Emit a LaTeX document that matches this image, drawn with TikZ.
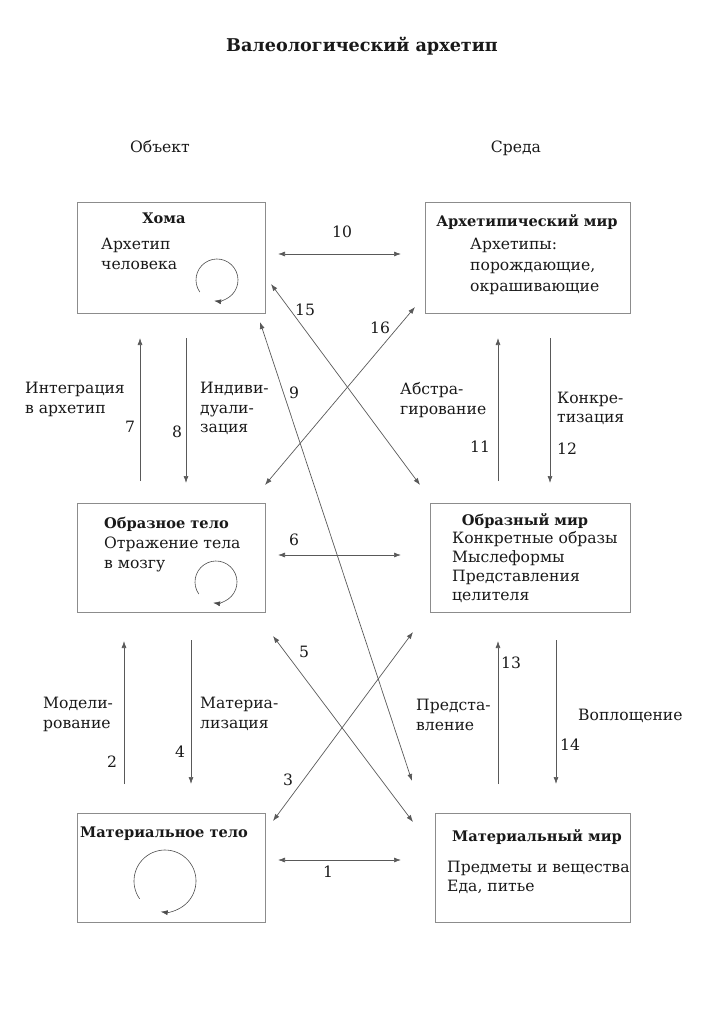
\documentclass[tikz,border=0pt]{standalone}
\usepackage{fontspec}
\setmainfont{DejaVu Serif}
\usetikzlibrary{arrows.meta}
\begin{document}
\begin{tikzpicture}[x=1pt,y=-1pt,
  box/.style={draw=black!45, line width=1pt, inner sep=0pt},
  txt/.style={font=\fontsize{15.6}{20}\selectfont, text=black!90, inner sep=0pt},
  ttl/.style={font=\fontsize{14.6}{18}\selectfont\bfseries, text=black!90, inner sep=0pt},
  ml/.style={txt, align=left, anchor=north west},
  num/.style={txt, anchor=base},
  conn/.style={draw=black!65, line width=0.7pt, {Latex[length=7pt,width=5pt]}-{Latex[length=7pt,width=5pt]}},
  one/.style={draw=black!65, line width=0.7pt, -{Latex[length=7pt,width=5pt]}},
  loop/.style={draw=black!70, line width=0.6pt, -{Latex[length=7pt,width=5pt]}}
]
\useasboundingbox (0,0) rectangle (725,1024);

% title and headers
\node[txt, font=\fontsize{17.6}{20}\selectfont\bfseries, anchor=base] (title) at (362,52) {Валеологический архетип};
\node[txt, anchor=base] (obj) at (160,153) {Объект};
\node[txt, anchor=base] (env) at (516,153) {Среда};

% boxes
\node[box, minimum width=188pt, minimum height=110pt] (homa) at (171,258) {};
\node[box, minimum width=205pt, minimum height=110pt] (arch) at (527.5,258) {};
\node[box, minimum width=188pt, minimum height=109pt] (obrt) at (171,557.5) {};
\node[box, minimum width=200pt, minimum height=109pt] (obrm) at (530,557.5) {};
\node[box, minimum width=188pt, minimum height=109pt] (matt) at (171,867.5) {};
\node[box, minimum width=195pt, minimum height=109pt] (matm) at (532.5,867.5) {};

% box texts
\node[ttl, anchor=base] (homat) at (164,224) {Хома};
\node[ml] (homab) at (101,238) {Архетип\\человека};
\node[ttl, anchor=base] (archt) at (527,226) {Архетипический мир};
\node[ml, font=\fontsize{15.6}{21}\selectfont] (archb) at (470,238) {Архетипы:\\порождающие,\\окрашивающие};
\node[ttl, anchor=base west] (obrtt) at (104,528) {Образное тело};
\node[ml] (obrtb) at (104,537) {Отражение тела\\в мозгу};
\node[ttl, anchor=base] (obrmt) at (525,525) {Образный мир};
\node[ml, font=\fontsize{15.6}{19}\selectfont] (obrmb) at (452,531) {Конкретные образы\\Мыслеформы\\Представления\\целителя};
\node[ttl, anchor=base] (mattt) at (164,837) {Материальное тело};
\node[ttl, anchor=base] (matmt) at (537,841) {Материальный мир};
\node[ml, font=\fontsize{15.6}{19}\selectfont] (matmb) at (447,861) {Предметы и вещества\\Еда, питье};

% loops
\draw[loop] (217,280) ++(145:21) arc[start angle=145, end angle=458, radius=21];
\draw[loop] (216,582) ++(145:21) arc[start angle=145, end angle=458, radius=21];
\draw[loop] (165,881) ++(145:31) arc[start angle=145, end angle=458, radius=31];

% side labels
\node[ml] (l7) at (25,382) {Интеграция\\в архетип};
\node[ml, font=\fontsize{15.6}{19.5}\selectfont] (l8) at (200,382) {Индиви-\\дуали-\\зация};
\node[ml] (l11) at (400,382) {Абстра-\\гирование};
\node[ml, font=\fontsize{15.6}{19}\selectfont] (l12) at (557,392) {Конкре-\\тизация};
\node[ml] (l2) at (43,697) {Модели-\\рование};
\node[ml] (l4) at (200,697) {Материа-\\лизация};
\node[ml] (l13) at (416,699) {Предста-\\вление};
\node[txt, anchor=base west] (l14) at (578,720) {Воплощение};

% numbers
\node[num] (n10) at (342,237) {10};
\node[num] (n15) at (305,315) {15};
\node[num] (n16) at (380,333) {16};
\node[num] (n9) at (294,398) {9};
\node[num] (n7) at (130,432) {7};
\node[num] (n8) at (177,437) {8};
\node[num] (n11) at (480,452) {11};
\node[num] (n12) at (567,454) {12};
\node[num] (n6) at (294,545) {6};
\node[num] (n5) at (304,657) {5};
\node[num] (n13) at (511,668) {13};
\node[num] (n2) at (112,767) {2};
\node[num] (n4) at (180,757) {4};
\node[num] (n3) at (288,785) {3};
\node[num] (n14) at (570,750) {14};
\node[num] (n1) at (328,877) {1};

% connector endpoints
\coordinate (a10l) at (278,254); \coordinate (a10r) at (401,254);
\coordinate (a6l) at (278,555);  \coordinate (a6r) at (401,555);
\coordinate (a1l) at (278,860);  \coordinate (a1r) at (401,860);
\coordinate (a15a) at (271,284); \coordinate (a15b) at (420,485);
\coordinate (a16a) at (415,307); \coordinate (a16b) at (265,485);
\coordinate (a9a) at (260,322);  \coordinate (a9b) at (412,781);
\coordinate (a5a) at (273,636);  \coordinate (a5b) at (413,822);
\coordinate (a3a) at (273,821);  \coordinate (a3b) at (413,632);
\coordinate (v7b) at (140,481);  \coordinate (v7t) at (140,338);
\coordinate (v8t) at (186,338);  \coordinate (v8b) at (186,483);
\coordinate (v11b) at (498,481); \coordinate (v11t) at (498,338);
\coordinate (v12t) at (550,338); \coordinate (v12b) at (550,483);
\coordinate (v2b) at (124,784);  \coordinate (v2t) at (124,641);
\coordinate (v4t) at (191,640);  \coordinate (v4b) at (191,784);
\coordinate (v13b) at (498,784); \coordinate (v13t) at (498,641);
\coordinate (v14t) at (556,640); \coordinate (v14b) at (556,784);

% connectors
\draw[conn] (a10l) -- (a10r);
\draw[conn] (a6l) -- (a6r);
\draw[conn] (a1l) -- (a1r);
\draw[conn] (a15a) -- (a15b);
\draw[conn] (a16a) -- (a16b);
\draw[conn] (a9a) -- (a9b);
\draw[conn] (a5a) -- (a5b);
\draw[conn] (a3a) -- (a3b);
\draw[one] (v7b) -- (v7t);
\draw[one] (v8t) -- (v8b);
\draw[one] (v11b) -- (v11t);
\draw[one] (v12t) -- (v12b);
\draw[one] (v2b) -- (v2t);
\draw[one] (v4t) -- (v4b);
\draw[one] (v13b) -- (v13t);
\draw[one] (v14t) -- (v14b);
\end{tikzpicture}
\end{document}
